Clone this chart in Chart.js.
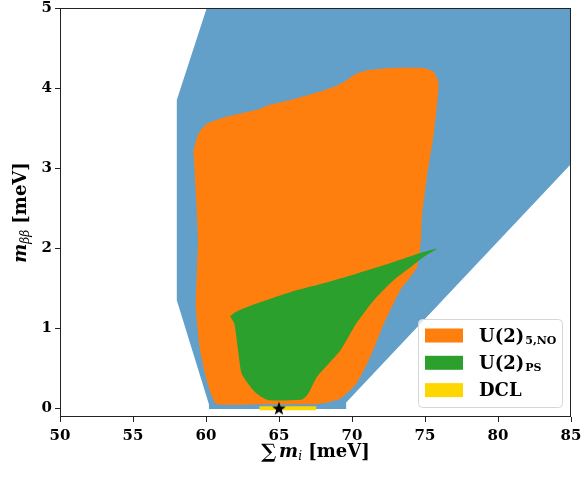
<!DOCTYPE html>
<html>
<head>
<meta charset="utf-8">
<script src="https://cdn.jsdelivr.net/npm/chart.js@4.4.1/dist/chart.umd.min.js"></script>
<style>body{margin:0;background:#fff}</style>
</head>
<body>
<canvas id="grafica" width="581" height="478"></canvas>
<script>
// ejes
const xTicks = [50, 55, 60, 65, 70, 75, 80, 85];
const yTicks = [0, 1, 2, 3, 4, 5];

// region permitida (azul)
const azulX = [60.05, 85, 85, 69.6, 69.6, 60.2, 60.2, 58.0, 58.0, 60.05];
const azulY = [5, 5, 3.05, 0.07, -0.01, -0.01, 0.05, 1.35, 3.85, 5];

// U(2)_5,NO (naranja)
const naranjaX = [59.14, 59.48, 60.05, 61.4, 63.5, 64.2, 65.76, 68.05, 69.2, 70.3, 71.0, 72.6, 74.9, 75.6, 75.93, 75.6, 75.13, 74.79, 74.72, 74.45, 73.3, 72.2, 71.25, 70.3, 69.2, 68.3, 67.5, 64.0, 60.74, 60.4, 60.05, 59.6, 59.3, 59.37, 59.45, 59.3, 59.14];
const naranjaY = [3.22, 3.43, 3.55, 3.64, 3.73, 3.78, 3.85, 3.97, 4.05, 4.18, 4.22, 4.25, 4.25, 4.2, 4.05, 3.43, 2.89, 2.39, 2.1, 1.76, 1.47, 1.06, 0.64, 0.31, 0.12, 0.07, 0.05, 0.05, 0.05, 0.15, 0.35, 0.72, 1.26, 1.68, 2.1, 2.7, 3.22];

// U(2)_PS (verde)
const verdeX = [61.65, 62.0, 63.5, 65.76, 68.05, 70.3, 72.6, 74.9, 75.8, 74.9, 74.2, 72.85, 71.5, 70.3, 69.2, 67.6, 67.0, 66.6, 64.3, 63.8, 63.25, 62.45, 62.2, 61.95, 61.65];
const verdeY = [1.15, 1.2, 1.31, 1.45, 1.56, 1.68, 1.81, 1.95, 1.99, 1.89, 1.79, 1.6, 1.35, 1.06, 0.72, 0.39, 0.18, 0.11, 0.1, 0.14, 0.22, 0.43, 0.72, 1.05, 1.15];

// DCL (amarillo) y punto
const dclX = [63.66, 67.55];
const dclY = [0, 0];
const puntoX = [65];
const puntoY = [0];

// leyenda
const leyendaTexto = ['U(2)', 'U(2)', 'DCL'];
const leyendaSub = ['5,NO', 'PS', ''];

const azul = '#62a0ca';
const naranja = '#ff7f0e';
const verde = '#2ca02c';
const oro = '#ffd700';
const leyendaColores = [naranja, verde, oro];

const pts = (xs, ys) => xs.map((x, i) => ({x: x, y: ys[i]}));

// estrella negra rellena
const estrella = document.createElement('canvas');
estrella.width = 16; estrella.height = 16;
const sc = estrella.getContext('2d');
sc.beginPath();
for (let k = 0; k < 10; k++) {
    const r = k % 2 ? 2.9 : 7.2;
    const ang = -Math.PI / 2 + k * Math.PI / 5;
    sc.lineTo(8 + r * Math.cos(ang), 8.6 + r * Math.sin(ang));
}
sc.closePath();
sc.fillStyle = '#000';
sc.fill();

const serif = '"DejaVu Serif", "DejaVu Sans", serif';

function piezas(ctx, lista, cx, base) {
    let total = 0;
    lista.forEach(p => { ctx.font = p.f; p.w = ctx.measureText(p.t).width; total += p.w; });
    let x = cx - total / 2;
    lista.forEach(p => { ctx.font = p.f; ctx.fillText(p.t, x, base + (p.dy || 0)); x += p.w; });
}

const marco = {
    id: 'marco',
    afterDraw(chart) {
        const ctx = chart.ctx, a = chart.chartArea;
        ctx.save();
        ctx.strokeStyle = '#222';
        ctx.lineWidth = 1;
        ctx.strokeRect(Math.round(a.left) + 0.5, Math.round(a.top) + 0.5, Math.round(a.right - a.left) - 1, Math.round(a.bottom - a.top) - 1);

        // titulos de ejes
        ctx.fillStyle = '#000';
        ctx.textBaseline = 'alphabetic';
        ctx.textAlign = 'left';
        piezas(ctx, [
            {t: '\u2211', f: 'bold 20px ' + serif, dy: 1},
            {t: ' ', f: 'bold 8px ' + serif},
            {t: 'm', f: 'bold italic 18px ' + serif},
            {t: 'i', f: 'italic 12px ' + serif, dy: 3},
            {t: ' [meV]', f: 'bold 18px ' + serif}
        ], (a.left + a.right) / 2, 457);

        ctx.save();
        ctx.translate(26, (a.top + a.bottom) / 2);
        ctx.rotate(-Math.PI / 2);
        piezas(ctx, [
            {t: 'm', f: 'bold italic 18px ' + serif},
            {t: '\u03b2\u03b2', f: 'italic 12px ' + serif, dy: 3},
            {t: ' [meV]', f: 'bold 18px ' + serif}
        ], 0, 0);
        ctx.restore();

        // leyenda
        const w = 144, h = 88;
        const x0 = Math.round(a.right - 9 - w), y0 = Math.round(a.bottom - 10 - h);
        ctx.beginPath();
        ctx.roundRect(x0 + 0.5, y0 + 0.5, w, h, 4);
        ctx.fillStyle = 'rgba(255,255,255,0.8)';
        ctx.fill();
        ctx.strokeStyle = '#d6d6d6';
        ctx.stroke();
        leyendaTexto.forEach((t, i) => {
            const cy = y0 + 16.5 + i * 27.3;
            ctx.fillStyle = leyendaColores[i];
            ctx.fillRect(x0 + 7, cy - 7, 38, 14);
            ctx.fillStyle = '#000';
            ctx.font = 'bold 18px ' + serif;
            ctx.fillText(t, x0 + 61, cy + 6);
            if (leyendaSub[i]) {
                const tw = ctx.measureText(t).width;
                ctx.font = 'bold 11px ' + serif;
                ctx.fillText(leyendaSub[i], x0 + 62 + tw, cy + 8.5);
            }
        });
        ctx.restore();
    }
};

new Chart(document.getElementById('grafica'), {
    type: 'line',
    data: {
        datasets: [
            {label: 'star', data: pts(puntoX, puntoY), showLine: false, pointStyle: estrella, pointRadius: 7, order: 0},
            {label: 'DCL', data: pts(dclX, dclY), borderColor: oro, borderWidth: 4, pointRadius: 0, fill: false, order: 1},
            {label: 'U(2)PS', data: pts(verdeX, verdeY), backgroundColor: verde, borderWidth: 0, pointRadius: 0, fill: 'shape', tension: 0.2, order: 2},
            {label: 'U(2)5,NO', data: pts(naranjaX, naranjaY), backgroundColor: naranja, borderWidth: 0, pointRadius: 0, fill: 'shape', tension: 0.2, order: 3},
            {label: 'allowed', data: pts(azulX, azulY), backgroundColor: azul, borderWidth: 0, pointRadius: 0, fill: 'shape', tension: 0, order: 4}
        ]
    },
    options: {
        responsive: false,
        animation: false,
        events: [],
        layout: {padding: {top: 7, right: 10, left: 0, bottom: 0}},
        plugins: {legend: {display: false}, tooltip: {enabled: false}},
        scales: {
            x: {
                type: 'linear', min: 50, max: 85,
                afterBuildTicks: s => { s.ticks = xTicks.map(v => ({value: v})); },
                afterFit: s => { s.height = 61; s.paddingLeft = 0; s.paddingRight = 0; },
                grid: {drawOnChartArea: false, drawTicks: true, tickLength: 5, color: '#222'},
                border: {display: false},
                ticks: {color: '#000', padding: 5, maxRotation: 0, font: {family: serif, weight: 'bold', size: 15}}
            },
            y: {
                type: 'linear', min: -0.11, max: 5,
                afterBuildTicks: s => { s.ticks = yTicks.map(v => ({value: v})); },
                afterFit: s => { s.width = 60; s.paddingTop = 0; s.paddingBottom = 0; },
                grid: {drawOnChartArea: false, drawTicks: true, tickLength: 5, color: '#222'},
                border: {display: false},
                ticks: {color: '#000', padding: 3, font: {family: serif, weight: 'bold', size: 15}}
            }
        }
    },
    plugins: [marco]
});
</script>
</body>
</html>
